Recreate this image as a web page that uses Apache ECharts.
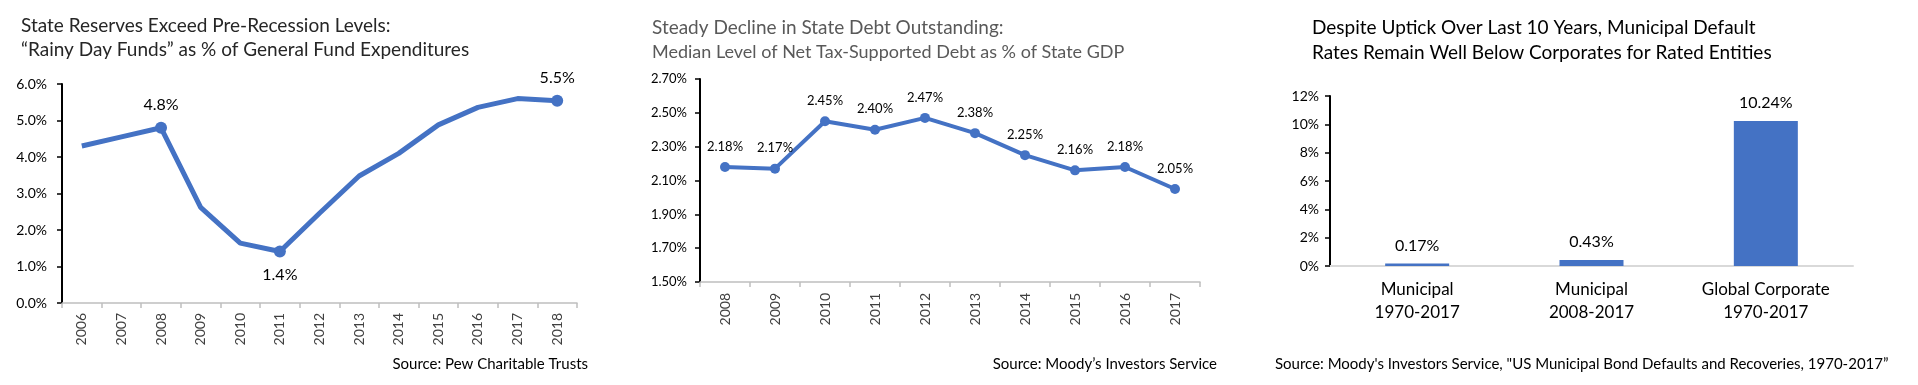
<!DOCTYPE html>
<html><head><meta charset="utf-8">
<script src="https://cdn.jsdelivr.net/npm/echarts@6/dist/echarts.min.js"></script>
<style>html,body{margin:0;padding:0;background:#fff}#c{width:1918px;height:385px}</style>
</head><body><div id="c"></div>
<script>
// ---- Data ----
const reserveYears = ['2006','2007','2008','2009','2010','2011','2012','2013','2014','2015','2016','2017','2018'];
const reserveValues = [4.30, 4.55, 4.80, 2.62, 1.64, 1.41, 2.46, 3.48, 4.10, 4.88, 5.36, 5.60, 5.54];
const reserveMarked = {2: 'top', 5: 'bottom', 12: 'top'};

const debtYears = ['2008','2009','2010','2011','2012','2013','2014','2015','2016','2017'];
const debtValues = [2.18, 2.17, 2.45, 2.40, 2.47, 2.38, 2.25, 2.16, 2.18, 2.05];

const defaultCats = ['Municipal\n1970-2017', 'Municipal\n2008-2017', 'Global Corporate\n1970-2017'];
const defaultValues = [0.17, 0.43, 10.24];

const titles = {
  t1: 'State Reserves Exceed Pre-Recession Levels:\n\u201cRainy Day Funds\u201d as % of General Fund Expenditures',
  t2: 'Steady Decline in State Debt Outstanding:',
  t2sub: 'Median Level of Net Tax-Supported Debt as % of State GDP',
  t3: 'Despite Uptick Over Last 10 Years, Municipal Default\nRates Remain Well Below Corporates for Rated Entities',
  s1: 'Source: Pew Charitable Trusts',
  s2: 'Source: Moody\u2019s Investors Service',
  s3: 'Source: Moody\'s Investors Service, "US Municipal Bond Defaults and Recoveries, 1970-2017\u201d'
};

// ---- Chart ----
const FONT = 'Lato, "Noto Sans", sans-serif';
const BLUE = '#4472C4';
const chart = echarts.init(document.getElementById('c'), null, {renderer: 'canvas'});

const reserveData = reserveValues.map((v, i) => {
  if (reserveMarked[i]) {
    return {value: v, symbol: 'circle', symbolSize: 12,
      label: {show: true, position: reserveMarked[i], distance: 9}};
  }
  return {value: v, symbol: 'none'};
});

const option = {
  backgroundColor: '#fff',
  animation: false,
  textStyle: {fontFamily: FONT},
  title: [
    {text: titles.t1, left: 21, top: 14, padding: 0,
      textStyle: {fontFamily: FONT, fontSize: 19, fontWeight: 'normal', color: '#262626', lineHeight: 24}},
    {text: titles.t2, subtext: titles.t2sub, left: 652, top: 16, padding: 0, itemGap: 1,
      textStyle: {fontFamily: FONT, fontSize: 19, fontWeight: 'normal', color: '#595959', lineHeight: 24},
      subtextStyle: {fontFamily: FONT, fontSize: 18, color: '#595959', lineHeight: 22}},
    {text: titles.t3, left: 1312, top: 15, padding: 0,
      textStyle: {fontFamily: FONT, fontSize: 19, fontWeight: 'normal', color: '#000', lineHeight: 25}},
    {text: titles.s1, right: 1918 - 588, top: 355, padding: 0,
      textStyle: {fontFamily: FONT, fontSize: 15, fontWeight: 'normal', color: '#000', lineHeight: 18}},
    {text: titles.s2, right: 1918 - 1217, top: 355, padding: 0,
      textStyle: {fontFamily: FONT, fontSize: 15, fontWeight: 'normal', color: '#000', lineHeight: 18}},
    {text: titles.s3, left: 1275, top: 355, padding: 0,
      textStyle: {fontFamily: FONT, fontSize: 15, fontWeight: 'normal', color: '#000', lineHeight: 18}}
  ],
  grid: [
    {left: 62, top: 84, width: 515, height: 219},
    {left: 700, top: 79, width: 500, height: 203},
    {left: 1330, top: 96, width: 523, height: 170}
  ],
  xAxis: [
    {type: 'category', gridIndex: 0, data: reserveYears, boundaryGap: true,
      axisLine: {lineStyle: {color: '#bfbfbf', width: 1.5}},
      axisTick: {show: true, length: 5, interval: 0, lineStyle: {color: '#bfbfbf', width: 1.5}},
      axisLabel: {rotate: 90, margin: 10, fontSize: 14, color: '#404040', interval: 0}},
    {type: 'category', gridIndex: 1, data: debtYears, boundaryGap: true,
      axisLine: {lineStyle: {color: '#bfbfbf', width: 1.5}},
      axisTick: {show: true, length: 5, interval: 0, lineStyle: {color: '#bfbfbf', width: 1.5}},
      axisLabel: {rotate: 90, margin: 11, fontSize: 14, color: '#404040', interval: 0}},
    {type: 'category', gridIndex: 2, data: defaultCats, boundaryGap: true,
      axisLine: {lineStyle: {color: '#d9d9d9', width: 2}},
      axisTick: {show: false},
      axisLabel: {margin: 12, fontSize: 17, lineHeight: 23, color: '#000', interval: 0}}
  ],
  yAxis: [
    {type: 'value', gridIndex: 0, min: 0, max: 6, interval: 1,
      axisLine: {show: true, lineStyle: {color: '#000', width: 2}},
      axisTick: {show: true, length: 5, lineStyle: {color: '#000', width: 1.5}},
      splitLine: {show: false},
      axisLabel: {margin: 15, fontSize: 14, color: '#000', formatter: v => v.toFixed(1) + '%'}},
    {type: 'value', gridIndex: 1, min: 1.5, max: 2.7, interval: 0.2,
      axisLine: {show: true, lineStyle: {color: '#000', width: 2}},
      axisTick: {show: true, length: 5, lineStyle: {color: '#000', width: 1.5}},
      splitLine: {show: false},
      axisLabel: {margin: 13, fontSize: 13, color: '#000', formatter: v => v.toFixed(2) + '%'}},
    {type: 'value', gridIndex: 2, min: 0, max: 12, interval: 2,
      axisLine: {show: true, lineStyle: {color: '#000', width: 2}},
      axisTick: {show: true, length: 5, lineStyle: {color: '#000', width: 1.5}},
      splitLine: {show: false},
      axisLabel: {margin: 11, fontSize: 14, color: '#000', formatter: v => Math.round(v) + '%'}}
  ],
  series: [
    {type: 'line', xAxisIndex: 0, yAxisIndex: 0, data: reserveData,
      lineStyle: {color: BLUE, width: 5}, itemStyle: {color: BLUE},
      label: {show: false, fontSize: 16, color: '#000', fontFamily: FONT,
        formatter: p => p.value.toFixed(1) + '%'}},
    {type: 'line', xAxisIndex: 1, yAxisIndex: 1, data: debtValues,
      symbol: 'circle', symbolSize: 10, showAllSymbol: true,
      lineStyle: {color: BLUE, width: 4}, itemStyle: {color: BLUE},
      label: {show: true, position: 'top', distance: 9, fontSize: 13, color: '#000', fontFamily: FONT,
        formatter: p => p.value.toFixed(2) + '%'}},
    {type: 'bar', xAxisIndex: 2, yAxisIndex: 2, data: defaultValues, barWidth: 64,
      itemStyle: {color: BLUE},
      label: {show: true, position: 'top', distance: 10, fontSize: 16, color: '#000', fontFamily: FONT,
        formatter: p => p.value.toFixed(2) + '%'}}
  ]
};
chart.setOption(option);
</script>
</body></html>
